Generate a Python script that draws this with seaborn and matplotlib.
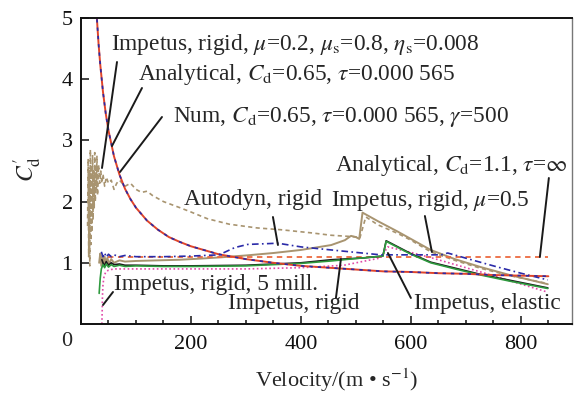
import numpy as np
import pandas as pd
import matplotlib
matplotlib.use("Agg")
import matplotlib.pyplot as plt
from matplotlib.ticker import MultipleLocator
import seaborn as sns

# ---- data: drag coefficient vs. impact velocity ----
# analytical model, Cd=0.65, tau=0.000565 (numerical model overlays it)
v_ana = [29, 32, 35, 40, 45, 50, 60, 70, 80, 90, 100, 120, 140, 160, 180, 200,
         250, 300, 350, 400, 450, 500, 550, 600, 650, 700, 750, 800, 850]
cd_ana = [4.98, 4.57, 4.24, 3.79, 3.44, 3.16, 2.74, 2.44, 2.21, 2.04, 1.90, 1.69,
          1.54, 1.42, 1.34, 1.27, 1.14, 1.06, 1.00, 0.95, 0.92, 0.89, 0.86, 0.85,
          0.83, 0.82, 0.80, 0.79, 0.78]

# analytical model, Cd=1.1, tau=inf
v_inf = [50, 850]
cd_inf = [1.1, 1.1]

# Impetus, rigid, mu=0.2, mu_s=0.8, eta_s=0.008
v_mu02 = [12, 13, 14, 15, 16, 17, 18, 19, 20, 21, 22, 23, 24, 25, 26, 27, 28, 29,
          30, 32, 34, 36, 38, 40, 43, 46, 50, 55, 60, 65, 70, 80, 90, 100, 110,
          120, 130, 150, 180, 200, 230, 270, 320, 364, 418, 455, 490, 503, 507,
          518, 540, 576, 600, 636, 680, 727, 780, 849]
cd_mu02 = [1.6, 2.7, 1.1, 2.5, 0.95, 2.85, 1.3, 2.6, 1.5, 2.75, 1.7, 2.5, 1.9,
           2.8, 2.0, 2.6, 2.2, 2.75, 2.1, 2.6, 2.3, 2.5, 2.3, 2.45, 2.25, 2.4,
           2.3, 2.35, 2.2, 2.3, 2.35, 2.25, 2.3, 2.2, 2.15, 2.17, 2.1, 2.0, 1.9,
           1.83, 1.72, 1.63, 1.57, 1.54, 1.49, 1.45, 1.43, 1.42, 1.40, 1.75, 1.62,
           1.48, 1.37, 1.18, 1.04, 0.91, 0.79, 0.66]

# Impetus, rigid, mu=0.5
v_mu05 = [33, 35, 37, 39, 41, 43, 45, 48, 51, 55, 60, 70, 80, 100, 140, 180, 220,
          255, 300, 350, 400, 455, 480, 491, 500, 506, 512, 540, 576, 636, 680,
          727, 780, 849]
cd_mu05 = [1.0, 1.15, 0.95, 1.12, 0.98, 1.1, 1.0, 1.08, 0.98, 1.06, 1.0, 1.04,
           1.02, 1.03, 1.04, 1.05, 1.07, 1.09, 1.12, 1.16, 1.21, 1.29, 1.37, 1.44,
           1.42, 1.39, 1.82, 1.68, 1.51, 1.21, 1.06, 0.93, 0.80, 0.65]

# Impetus, elastic
v_ela = [33, 35, 37, 40, 43, 46, 50, 55, 60, 70, 80, 100, 150, 200, 300, 400,
         455, 500, 549, 555, 600, 636, 680, 727, 780, 849]
cd_ela = [0.5, 0.75, 0.9, 0.97, 0.92, 0.98, 0.93, 0.97, 0.94, 0.96, 0.94, 0.95,
          0.94, 0.94, 0.95, 0.99, 1.03, 1.07, 1.11, 1.35, 1.14, 1.0, 0.9, 0.8,
          0.7, 0.58]

# Impetus, rigid
v_rig = [38, 42, 46, 50, 55, 60, 70, 80, 100, 150, 200, 300, 400, 455, 515, 549,
         555, 600, 636, 727, 849]
cd_rig = [1.05, 0.95, 1.02, 0.96, 1.0, 0.97, 0.98, 0.96, 0.96, 0.95, 0.95, 0.96,
          1.0, 1.05, 1.08, 1.11, 1.36, 1.15, 1.01, 0.81, 0.59]

# Impetus, rigid, 5 mill.
v_5m = [38, 38.5, 39, 40, 42, 45, 50, 60, 80, 100, 200, 300, 400, 478, 545, 558,
        600, 642, 727, 849]
cd_5m = [0.0, 0.2, 0.45, 0.65, 0.78, 0.85, 0.88, 0.9, 0.9, 0.9, 0.9, 0.9, 0.92,
         0.96, 1.08, 1.26, 1.17, 1.07, 0.85, 0.52]

# Autodyn, rigid
v_aut = [37, 40, 43, 46, 50, 55, 60, 70, 80, 100, 150, 200, 251, 280, 303, 358,
         400, 455, 500, 545, 600, 655, 667, 710, 758, 800, 849]
cd_aut = [1.18, 1.1, 1.16, 1.09, 1.14, 1.1, 1.13, 1.1, 1.12, 1.1, 1.1, 1.11, 1.13,
          1.25, 1.3, 1.32, 1.26, 1.21, 1.17, 1.13, 1.13, 1.13, 1.16, 1.05, 0.93,
          0.83, 0.72]

x_ticks = [200, 400, 600, 800]
y_ticks = [1, 2, 3, 4, 5]

# ---- styling ----
sns.set_theme(style="ticks")
plt.rcParams["font.family"] = ["Liberation Serif", "DejaVu Serif"]
plt.rcParams["mathtext.fontset"] = "stix"

TAN = "#a89470"
RED = "#e0452a"
ORANGE = "#ec6a40"
BLUE = "#2a2aa8"
GREEN = "#2e9a3e"
BLACK = "#1a1a1a"
PINK = "#e04aa8"

fig = plt.figure(figsize=(5.74, 3.95), dpi=100)
ax = fig.add_axes([81 / 574, (395 - 324) / 395, (572 - 81) / 574, (324 - 18) / 395])


def draw(v, c, **kw):
    sns.lineplot(x=v, y=c, ax=ax, sort=False, estimator=None, legend=False, **kw)


draw(v_mu02, cd_mu02, color=TAN, lw=1.2, linestyle=(0, (2.5, 2)))
draw(v_mu05, cd_mu05, color=TAN, lw=1.4)
draw(v_inf, cd_inf, color=ORANGE, lw=1.3, linestyle=(0, (3, 2.5)))
draw(v_5m, cd_5m, color=PINK, lw=1.2, linestyle=(0, (1, 1.5)))
draw(v_rig, cd_rig, color=BLACK, lw=1.2)
draw(v_ela, cd_ela, color=GREEN, lw=1.2)
draw(v_aut, cd_aut, color=BLUE, lw=1.2, linestyle=(0, (4, 2, 1, 2)))
draw(v_ana, cd_ana, color=RED, lw=1.4)
draw(v_ana, cd_ana, color=BLUE, lw=1.2, linestyle=(0, (2, 3)))

ax.set_xlim(0, 893)
ax.set_ylim(0, 5)
ax.set_xticks(x_ticks)
ax.set_yticks(y_ticks)
ax.xaxis.set_minor_locator(MultipleLocator(50))
ax.tick_params(axis="both", which="both", direction="in", labelsize=16,
               colors="#111111", width=1.1)
ax.tick_params(axis="x", which="major", length=6, pad=8)
ax.tick_params(axis="x", which="minor", length=3)
ax.tick_params(axis="y", which="major", length=6, pad=6)
for s in ax.spines.values():
    s.set_linewidth(1.4)
    s.set_color("#111111")
ax.spines["right"].set_linewidth(1.0)
ax.spines["right"].set_color("#777777")

fig.text(67 / 574, 1 - 342 / 395, "0", fontsize=16, ha="center", va="center")
ax.set_xlabel("Velocity/(m \u2022 s$^{-1}$)", fontsize=16)
ax.xaxis.set_label_coords(0.52, -0.14)
ax.set_ylabel("$C_{\\mathrm{d}}^{\\prime}$", fontsize=17)
ax.yaxis.set_label_coords(-0.075, 0.505)

# ---- annotations: text with pointer lines ----
FS = 16.8


def note(text, xy_text, tip, start, ha="left"):
    ax.annotate(text, xy=tip, xycoords="data", xytext=xy_text,
                textcoords="data", fontsize=FS, ha=ha, va="baseline",
                arrowprops=None)
    ax.add_line(plt.Line2D([start[0], tip[0]], [start[1], tip[1]],
                           color=BLACK, lw=1.4))


def px(x, y):
    return ((x - 80) / 0.55, (324 - y) / 61.2)


def label(text, p_text, p_tip, p_start, ha="left"):
    note(text, px(*p_text), px(*p_tip), px(*p_start), ha=ha)


label("Impetus, rigid, $\\mu$=0.2, $\\mu_{\\mathrm{s}}$=0.8, $\\eta_{\\mathrm{s}}$=0.008",
      (110, 50), (101, 168), (116, 62))
label("Analytical, $C_{\\mathrm{d}}$=0.65, $\\tau$=0.000 565",
      (137, 80), (111, 146), (141, 88))
label("Num, $C_{\\mathrm{d}}$=0.65, $\\tau$=0.000 565, $\\gamma$=500",
      (172, 122), (119, 172), (161, 117))
label("Analytical, $C_{\\mathrm{d}}$=1.1, $\\tau$=$\\infty$",
      (567, 171), (539, 257), (548, 178), ha="right")
label("Autodyn, rigid", (183, 205), (277, 245), (272, 217))
label("Impetus, rigid, $\\mu$=0.5", (330, 206), (431, 252), (424, 216))
label("Impetus, rigid, 5 mill.", (113, 290), (102, 305), (112, 292))
label("Impetus, rigid", (227, 309), (340, 259), (335, 298))
label("Impetus, elastic", (413, 309), (387, 253), (410, 298))

fig.savefig("out.png", dpi=100)
